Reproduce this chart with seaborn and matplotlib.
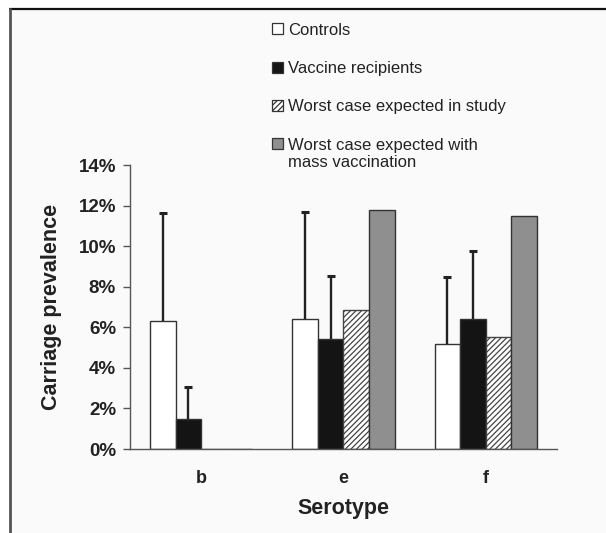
import numpy as np
import pandas as pd
import seaborn as sns
import matplotlib.pyplot as plt
from matplotlib.patches import Rectangle
from matplotlib.lines import Line2D
from matplotlib.ticker import PercentFormatter

# values (percent)
serotypes = ["b", "e", "f"]
groups = ["Controls", "Vaccine recipients", "Worst case expected in study",
          "Worst case expected with\nmass vaccination"]
controls = [6.33, 6.40, 5.18]
vaccine = [1.46, 5.41, 6.41]
worst_study = [0.0, 6.84, 5.54]
worst_mass = [0.0, 11.76, 11.51]
controls_upper = [11.63, 11.68, 8.47]
vaccine_upper = [3.07, 8.53, 9.77]

bar_colors = ["#ffffff", "#141414", "#ffffff", "#8f8f8f"]
bar_hatches = [None, None, "//////", None]

df = pd.DataFrame({
    "serotype": serotypes * 4,
    "group": np.repeat(groups, 3),
    "value": controls + vaccine + worst_study + worst_mass,
})

sns.set_style("white")
plt.rcParams['font.family'] = ['Liberation Sans', 'DejaVu Sans']
plt.rcParams['hatch.linewidth'] = 0.9

W, H = 606, 533
fig = plt.figure(figsize=(W / 100, H / 100), dpi=100, facecolor="white")
ax = fig.add_axes([130 / W, 1 - 449 / H, 427 / W, 284 / H])
ax.set_facecolor("none")

# page background + frame
fig.add_artist(Rectangle((10 / W, 0), 1 - 10 / W, 1 - 9 / H, transform=fig.transFigure,
                         facecolor="#fafafa", edgecolor="none", zorder=-5))
fig.add_artist(Line2D([10 / W, 1], [1 - 9 / H, 1 - 9 / H], transform=fig.transFigure,
                      color="#111111", lw=1.6))
fig.add_artist(Line2D([10 / W, 10 / W], [0, 1 - 9 / H], transform=fig.transFigure,
                      color="#555555", lw=2))

sns.barplot(data=df, x="serotype", y="value", hue="group", order=serotypes,
            hue_order=groups, palette=bar_colors, saturation=1, width=0.72,
            edgecolor="#333333", linewidth=1, errorbar=None, legend=False, ax=ax)

for bar in ax.containers[2]:
    bar.set_hatch("//////")
    bar.set_edgecolor("#444444")

# one-sided upper error bars
for cont, upper in [(ax.containers[0], controls_upper), (ax.containers[1], vaccine_upper)]:
    xs = [p.get_x() + p.get_width() / 2 for p in cont]
    hs = np.array([p.get_height() for p in cont])
    eb = ax.errorbar(xs, hs, yerr=[np.zeros(3), np.array(upper) - hs], fmt="none",
                     ecolor="#222222", elinewidth=1.7, capsize=2.6, capthick=2.2, zorder=3)
    eb[1][0].set_visible(False)

ax.set_ylim(0, 14)
ax.set_xlim(-0.5, 2.5)
ax.set_yticks(np.arange(0, 15, 2))
ax.yaxis.set_major_formatter(PercentFormatter(decimals=0))
ax.set_xticks([0, 1, 2])
ax.set_xticks([-0.5, 0.5, 1.5, 2.5], minor=True)
ax.tick_params(axis="x", which="major", length=0, pad=15, labelsize=13)
ax.tick_params(axis="x", which="minor", length=5, width=1, color="#555555", direction="out")
ax.tick_params(axis="y", length=5, width=1, color="#555555", direction="out", pad=5,
               labelsize=13.5, left=True)
for lab in ax.get_xticklabels() + ax.get_yticklabels():
    lab.set_fontweight("bold")
    lab.set_color("#222222")

sns.despine(ax=ax)
for s in ["left", "bottom"]:
    ax.spines[s].set_color("#555555")
    ax.spines[s].set_linewidth(1)

ax.set_xlabel("Serotype", fontsize=15.5, fontweight="bold", color="#222222")
ax.set_ylabel("Carriage prevalence", fontsize=15.5, fontweight="bold", color="#222222")
ax.xaxis.set_label_coords(0.5, -(498 - 449) / 284)
ax.yaxis.set_label_coords((62 - 130) / 427, 0.5)

# legend drawn as figure artists
for i, (label, color, hatch) in enumerate(zip(groups, bar_colors, bar_hatches)):
    yc = 1 - (29 + 38.2 * i) / H
    fig.add_artist(Rectangle((272 / W, yc - 5.5 / H), 11 / W, 11 / H, transform=fig.transFigure,
                             facecolor=color, edgecolor="#333333", hatch=hatch, lw=0.9))
    fig.text(288 / W, yc + 6 / H, label, fontsize=12, color="#222222", va="top",
             ha="left", linespacing=1.2)

fig.savefig("out.png", dpi=100, facecolor=fig.get_facecolor())
